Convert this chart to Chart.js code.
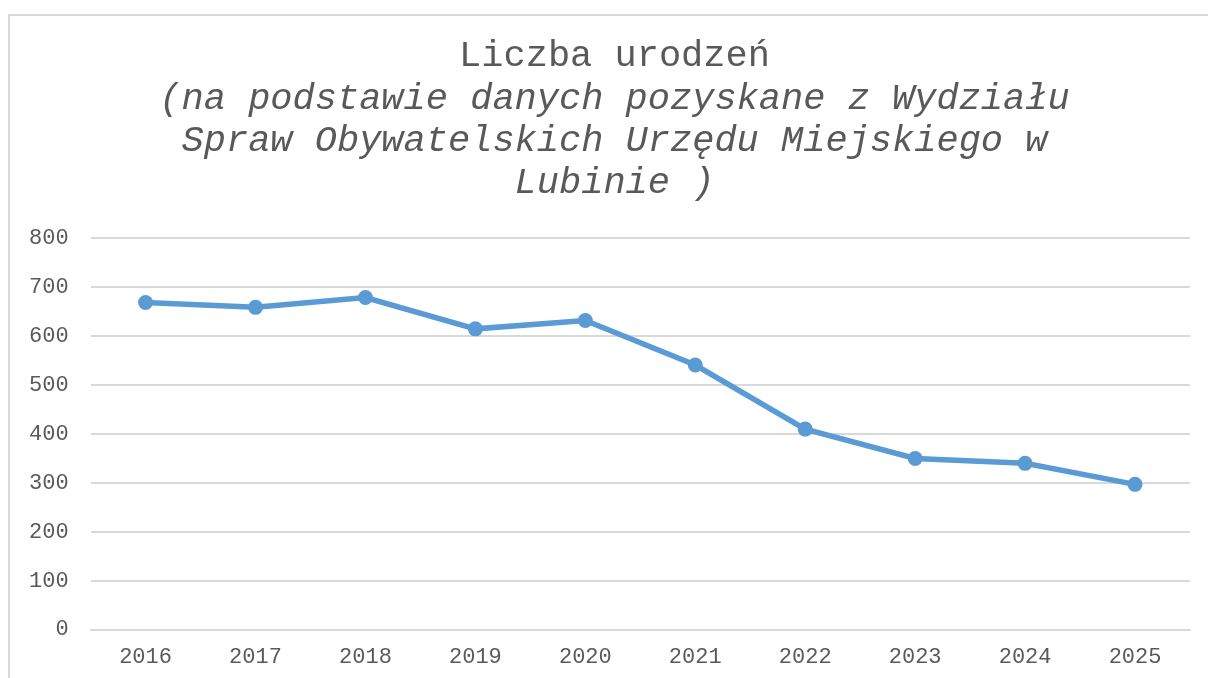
<!DOCTYPE html>
<html>
<head>
<meta charset="utf-8">
<script src="https://cdn.jsdelivr.net/npm/chart.js@4.4.1/dist/chart.umd.min.js"></script>
<style>
  html, body { margin: 0; padding: 0; background: #fff; }
  #wrap { position: relative; width: 1208px; height: 678px; }
  #frame { position: absolute; left: 8px; top: 14px; right: -4px; bottom: -4px;
           border-top: 2px solid #d9d9d9; border-left: 2px solid #d9d9d9; }
  canvas { position: absolute; left: 0; top: 0; }
</style>
</head>
<body>
<div id="wrap">
  <div id="frame"></div>
  <canvas id="c" width="1208" height="678"></canvas>
</div>
<script>
const years = ['2016', '2017', '2018', '2019', '2020', '2021', '2022', '2023', '2024', '2025'];
const births = [669, 659, 679, 615, 632, 541, 410, 350, 340, 297];
const titleLine = 'Liczba urodzeń';
const subtitleLines = [
  '(na podstawie danych pozyskane z Wydziału',
  'Spraw Obywatelskich Urzędu Miejskiego w',
  'Lubinie )'
];

const textColor = '#595959';
const gridColor = '#d9d9d9';
const mono = '"Liberation Mono", "DejaVu Sans Mono", monospace';

// Excel centres the title on the whole chart box, a bit right of Chart.js
const titleShift = {
  id: 'titleShift',
  afterLayout(chart) {
    chart.boxes.forEach(b => {
      if (b.position === 'top' && b.fullSize) { b.left += 16; b.right += 16; }
    });
  }
};

new Chart(document.getElementById('c').getContext('2d'), {
  type: 'line',
  data: {
    labels: years,
    datasets: [{
      data: births,
      borderColor: '#5b9bd5',
      backgroundColor: '#5b9bd5',
      borderWidth: 5.5,
      pointRadius: 7.5,
      pointHoverRadius: 7.5,
      pointBorderWidth: 0,
      tension: 0
    }]
  },
  plugins: [titleShift],
  options: {
    responsive: false,
    animation: false,
    layout: { padding: { left: 7, right: 18, top: 0, bottom: -6 } },
    plugins: {
      legend: { display: false },
      tooltip: { enabled: false },
      title: {
        display: true,
        text: titleLine,
        color: textColor,
        font: { family: mono, size: 37, weight: 'normal' },
        lineHeight: 1.15,
        padding: { top: 34, bottom: 0 }
      },
      subtitle: {
        display: true,
        text: subtitleLines,
        color: textColor,
        font: { family: mono, size: 37, style: 'italic', weight: 'normal', lineHeight: '42px' },
        padding: { top: 0, bottom: 34 }
      }
    },
    scales: {
      x: {
        offset: true,
        grid: { display: false, drawTicks: false },
        border: { display: true, color: gridColor, width: 2 },
        ticks: { color: textColor, font: { family: mono, size: 22 }, padding: 14 }
      },
      y: {
        min: 0,
        max: 800,
        grid: { color: gridColor, lineWidth: 2, drawTicks: false },
        border: { display: false },
        ticks: { stepSize: 100, color: textColor, font: { family: mono, size: 22 }, padding: 22 }
      }
    }
  }
});
</script>
</body>
</html>
